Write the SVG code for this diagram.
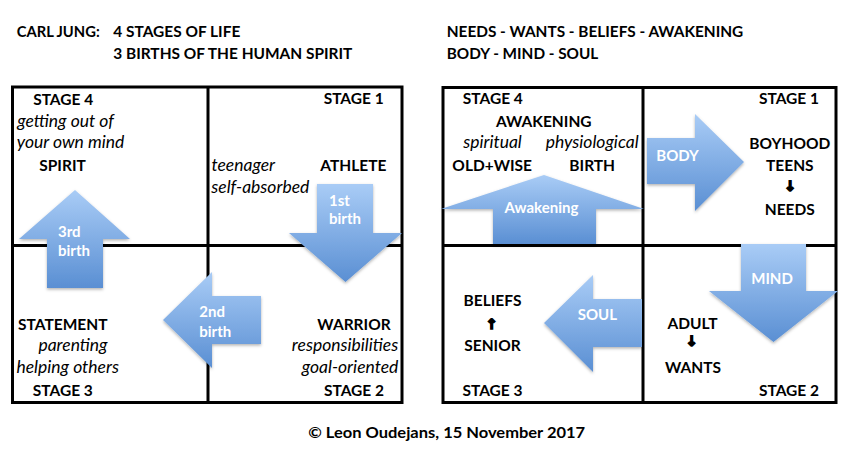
<svg xmlns="http://www.w3.org/2000/svg" width="851" height="453" viewBox="0 0 851 453">
<defs>
<linearGradient id="blue" x1="0" y1="0" x2="0" y2="1">
<stop offset="0" stop-color="#a9ccf6"/>
<stop offset="1" stop-color="#5a8fd3"/>
</linearGradient>
<filter id="sh" x="-10%" y="-10%" width="120%" height="125%">
<feDropShadow dx="0" dy="1.5" stdDeviation="1.5" flood-color="#000" flood-opacity="0.3"/>
</filter>
</defs>
<style>
text{font-family:Lato,"Liberation Sans",sans-serif;fill:#000;}
.b{font-weight:bold;font-size:15.5px;}
.t{font-weight:bold;font-size:16px;}
.i{font-style:italic;font-size:17.5px;}
.m{text-anchor:middle;}
.w{fill:#fff;font-weight:bold;font-size:15px;}
.arr{fill:url(#blue);filter:url(#sh);}
.grid{fill:none;stroke:#000;stroke-width:3;}
.sym{font-family:"DejaVu Sans",sans-serif;font-weight:bold;font-size:14px;text-anchor:middle;stroke:#000;stroke-width:1.6;}
</style>
<rect width="851" height="453" fill="#fff"/>

<g id="titles">
<text class="t" x="16.7" y="36.5" textLength="83" lengthAdjust="spacingAndGlyphs">CARL JUNG:</text>
<text class="t" x="113.3" y="36.5" textLength="127" lengthAdjust="spacingAndGlyphs">4 STAGES OF LIFE</text>
<text class="t" x="113.3" y="59" textLength="239" lengthAdjust="spacingAndGlyphs">3 BIRTHS OF THE HUMAN SPIRIT</text>
<text class="t" x="446.7" y="36.5" textLength="296.6" lengthAdjust="spacingAndGlyphs">NEEDS - WANTS - BELIEFS - AWAKENING</text>
<text class="t" x="446.7" y="59" textLength="151.6" lengthAdjust="spacingAndGlyphs">BODY - MIND - SOUL</text>
</g>

<g id="grids">
<rect class="grid" x="12.5" y="87" width="389.5" height="315.5"/>
<line class="grid" x1="208" y1="87" x2="208" y2="402.5"/>
<line class="grid" x1="12.5" y1="245.5" x2="402" y2="245.5"/>
<rect class="grid" x="443" y="87.5" width="393" height="315"/>
<line class="grid" x1="643" y1="87.5" x2="643" y2="402.5"/>
<line class="grid" x1="443" y1="245.5" x2="836" y2="245.5"/>
</g>

<g id="connectors">
<g id="arrow-3rd"><polygon class="arr" points="75,190 130,239 103,239 103,288 47,288 47,239 19,239"/>
<text class="w" x="58" y="237">3rd</text><text class="w" x="58" y="255.5">birth</text></g>
<g id="arrow-1st"><polygon class="arr" points="317,184 373,184 373,233 402,233 345.5,282 289,233 317,233"/>
<text class="w" x="329" y="205.7">1st</text><text class="w" x="329" y="224">birth</text></g>
<g id="arrow-2nd"><polygon class="arr" points="163,320 212,272 212,296 261,296 261,344 212,344 212,368"/>
<text class="w" x="199.3" y="317">2nd</text><text class="w" x="199.3" y="337">birth</text></g>
<g id="arrow-awakening"><polygon class="arr" points="544,175 644,209 596,209 596,244 493,244 493,209 441,209"/>
<text class="w m" x="541.5" y="213.3">Awakening</text></g>
<g id="arrow-body"><polygon class="arr" points="647,138 695,138 695,114 744,162 695,211 695,184 647,184"/>
<text class="w m" x="677.5" y="161">BODY</text></g>
<g id="arrow-mind"><polygon class="arr" points="741,244 806,244 806,291 838,291 773.5,342 709,291 741,291"/>
<text class="w m" x="772" y="284.3">MIND</text></g>
<g id="arrow-soul"><polygon class="arr" points="544,323 593,275 593,299 642,299 642,347 593,347 593,372"/>
<text class="w m" x="597.3" y="320">SOUL</text></g>
</g>

<g id="jung-stage4">
<text class="b m" x="63.2" y="105">STAGE 4</text>
<text class="i m" x="65.5" y="126.7">getting out of</text>
<text class="i m" x="70.5" y="148.3">your own mind</text>
<text class="b m" x="62.5" y="171">SPIRIT</text>
</g>
<g id="jung-stage1">
<text class="b m" x="353.7" y="104.3">STAGE 1</text>
<text class="i m" x="243.3" y="171">teenager</text>
<text class="b m" x="353.3" y="171">ATHLETE</text>
<text class="i m" x="260.3" y="193.3">self-absorbed</text>
</g>
<g id="jung-stage3">
<text class="b m" x="62.8" y="330">STATEMENT</text>
<text class="i m" x="73" y="351">parenting</text>
<text class="i m" x="67.7" y="372.7">helping others</text>
<text class="b m" x="62.8" y="395.7">STAGE 3</text>
</g>
<g id="jung-stage2">
<text class="b m" x="354" y="330">WARRIOR</text>
<text class="i m" x="345" y="351">responsibilities</text>
<text class="i m" x="350" y="372.7">goal-oriented</text>
<text class="b m" x="354" y="395.7">STAGE 2</text>
</g>

<g id="needs-stage4">
<text class="b m" x="492.8" y="104.3">STAGE 4</text>
<text class="b m" x="543.8" y="126.7">AWAKENING</text>
<text class="i m" x="492.5" y="148.3">spiritual</text>
<text class="i m" x="592.2" y="148.3">physiological</text>
<text class="b m" x="492.2" y="171">OLD+WISE</text>
<text class="b m" x="592.2" y="171">BIRTH</text>
</g>
<g id="needs-stage1">
<text class="b m" x="789.8" y="149">BOYHOOD</text>
<text class="b m" x="789" y="104.3">STAGE 1</text>
<text class="b m" x="789.8" y="171">TEENS</text>
<text class="sym" x="790" y="191">↓</text>
<text class="b m" x="789.8" y="215">NEEDS</text>
</g>
<g id="needs-stage3">
<text class="b m" x="492.5" y="305.7">BELIEFS</text>
<text class="sym" x="491.7" y="329">↑</text>
<text class="b m" x="492.5" y="350.7">SENIOR</text>
<text class="b m" x="492.5" y="395.7">STAGE 3</text>
</g>
<g id="needs-stage2">
<text class="b m" x="692.5" y="329">ADULT</text>
<text class="sym" x="691.7" y="346">↓</text>
<text class="b m" x="693" y="372.7">WANTS</text>
<text class="b m" x="789" y="395.7">STAGE 2</text>
</g>

<g id="copyright">
<text class="t m" x="446.7" y="438.3" textLength="277" lengthAdjust="spacingAndGlyphs">© Leon Oudejans, 15 November 2017</text>
</g>
</svg>
